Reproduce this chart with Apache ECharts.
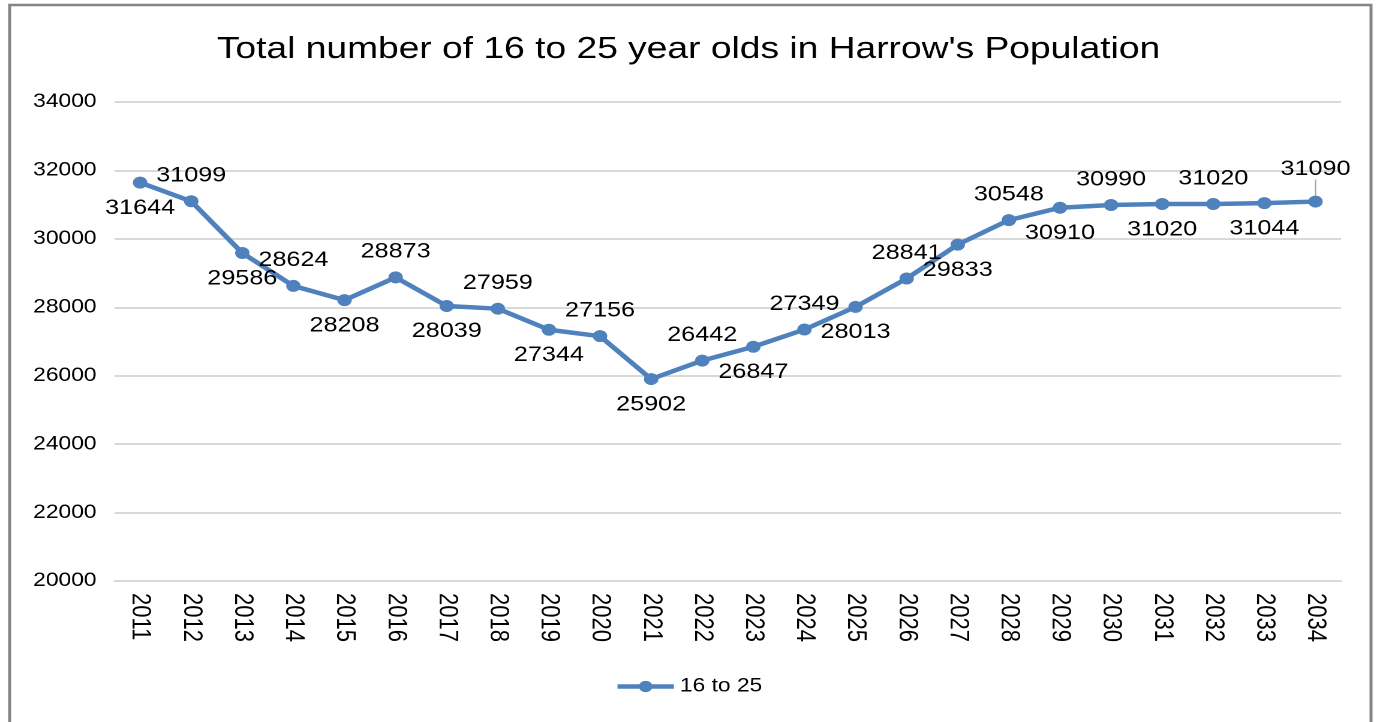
<!DOCTYPE html>
<html>
<head>
<meta charset="utf-8">
<script src="https://cdn.jsdelivr.net/npm/echarts@6/dist/echarts.min.js"></script>
<style>
html,body{margin:0;padding:0;background:#fff;overflow:hidden;}
#chart{width:1148px;height:722px;transform:scaleX(1.1995);transform-origin:0 0;}
</style>
</head>
<body>
<div id="chart"></div>
<script>
const years = ['2011','2012','2013','2014','2015','2016','2017','2018','2019','2020','2021','2022','2023','2024','2025','2026','2027','2028','2029','2030','2031','2032','2033','2034'];
const population16to25 = [31644,31099,29586,28624,28208,28873,28039,27959,27344,27156,25902,26442,26847,27349,28013,28841,29833,30548,30910,30990,31020,31020,31044,31090];
const yTicks = [20000,22000,24000,26000,28000,30000,32000,34000];
const seriesName = '16 to 25';
const titleText = "Total number of 16 to 25 year olds in Harrow's Population";

const font = '"Liberation Sans", Arial, sans-serif';
const chart = echarts.init(document.getElementById('chart'), null, { devicePixelRatio: 2 });
const lastIdx = population16to25.length - 1;
const seriesData = population16to25.map((v, i) => ({
  value: v,
  label: { position: i % 2 === 0 ? 'bottom' : 'top' },
  labelLine: { show: i === lastIdx }
}));
chart.setOption({
  animation: false,
  title: {
    text: titleText, left: 'center', top: 29,
    textStyle: { fontFamily: font, fontSize: 31, fontWeight: 'normal', color: '#000' }
  },
  graphic: [{
    type: 'rect', shape: { x: 8, y: 5, width: 1135, height: 740 },
    style: { fill: 'none', stroke: '#858585', lineWidth: 2.5 }, silent: true
  }],
  legend: {
    bottom: 21, left: 'center', itemWidth: 47, itemHeight: 14, itemGap: 4,
    lineStyle: { width: 4.5 },
    textStyle: { fontFamily: font, fontSize: 19, color: '#000' },
    data: [seriesName]
  },
  grid: { left: 95.5, right: 30, top: 102, bottom: 141, containLabel: false },
  xAxis: {
    type: 'category', data: years, boundaryGap: true,
    axisLine: { lineStyle: { color: '#d9d9d9', width: 2 } },
    axisTick: { show: false },
    axisLabel: { rotate: -90, fontFamily: font, fontSize: 22, color: '#000', margin: 12 }
  },
  yAxis: {
    type: 'value', min: yTicks[0], max: yTicks[yTicks.length - 1], interval: yTicks[1] - yTicks[0],
    axisLine: { show: false }, axisTick: { show: false },
    splitLine: { lineStyle: { color: '#d9d9d9', width: 2 } },
    axisLabel: { fontFamily: font, fontSize: 19, color: '#000', margin: 15, formatter: v => String(v) }
  },
  series: [{
    name: seriesName, type: 'line', data: seriesData,
    symbol: 'circle', symbolSize: 12,
    lineStyle: { color: '#4f81bd', width: 4.5 },
    itemStyle: { color: '#4f81bd' },
    label: { show: true, distance: 9, fontFamily: font, fontSize: 21, color: '#000' },
    labelLine: { show: false, lineStyle: { color: '#a6a6a6', width: 1.2 } },
    labelLayout: p => p.dataIndex === lastIdx ? { dy: -7 } : {}
  }]
});
</script>
</body>
</html>
